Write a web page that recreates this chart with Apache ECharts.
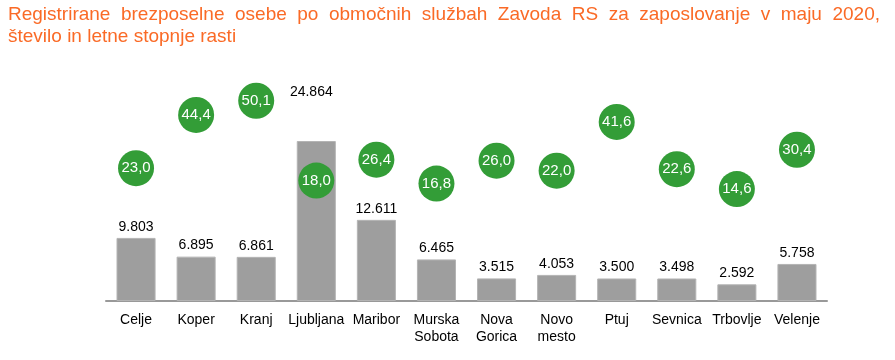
<!DOCTYPE html>
<html>
<head>
<meta charset="utf-8">
<script src="https://cdn.jsdelivr.net/npm/echarts@6/dist/echarts.min.js"></script>
<style>
html,body{margin:0;padding:0;background:#fff;}
#chart{width:895px;height:360px;}
</style>
</head>
<body>
<div id="chart"></div>
<script>
const categories = ["Celje", "Koper", "Kranj", "Ljubljana", "Maribor", "Murska\nSobota", "Nova\nGorica", "Novo\nmesto", "Ptuj", "Sevnica", "Trbovlje", "Velenje"];
const unemployed = [9803, 6895, 6861, 24864, 12611, 6465, 3515, 4053, 3500, 3498, 2592, 5758];
const growthRates = [23.0, 44.4, 50.1, 18.0, 26.4, 16.8, 26.0, 22.0, 41.6, 22.6, 14.6, 30.4];
const titleLine1 = "Registrirane brezposelne osebe po območnih službah Zavoda RS za zaposlovanje v maju 2020,";
const titleLine2 = "število in letne stopnje rasti";

const FONT = "Liberation Sans";
const TITLE_COLOR = "#fa6a26";
const TITLE_SIZE = 19;

function fmtInt(v){ return String(v).replace(/\B(?=(\d{3})+(?!\d))/g, "."); }
function fmtDec(v){ return v.toFixed(1).replace(".", ","); }

// justified first title line
const cv = document.createElement("canvas").getContext("2d");
cv.font = TITLE_SIZE + "px " + FONT;
const words = titleLine1.split(" ");
const widths = words.map(w => cv.measureText(w).width);
const left = 8, right = 880;
const gap = (right - left - widths.reduce((a,b)=>a+b,0)) / (words.length - 1);
const graphics = [];
let x = left;
words.forEach((w, i) => {
  graphics.push({type:"text", left: x, top: 5, style:{text:w, fill:TITLE_COLOR, font: TITLE_SIZE + "px " + FONT}});
  x += widths[i] + gap;
});
graphics.push({type:"text", left: left, top: 27, style:{text:titleLine2, fill:TITLE_COLOR, font: TITLE_SIZE + "px " + FONT}});

const chart = echarts.init(document.getElementById("chart"), null, {renderer:"canvas"});
chart.setOption({
  animation:false,
  backgroundColor:"#fff",
  textStyle:{fontFamily:FONT},
  graphic: graphics,
  grid:{left:106, right:68, top:50, bottom:59, containLabel:false},
  xAxis:{
    type:"category",
    data:categories,
    axisLine:{show:true, lineStyle:{color:"#999", width:2}},
    axisTick:{show:false},
    axisLabel:{color:"#000", fontSize:14, margin:11, lineHeight:17, interval:0, fontFamily:FONT}
  },
  yAxis:[
    {type:"value", min:0, max:39006, show:false, splitLine:{show:false}},
    {type:"value", min:-30.4, max:70.5, show:false, splitLine:{show:false}}
  ],
  series:[
    {
      type:"bar",
      data: unemployed.map((v, i) => i === 3 ? {value:v, label:{offset:[-5,-38]}} : v),
      barWidth:"65%",
      itemStyle:{color:"#9e9e9e", borderColor:"#b4b4b4", borderWidth:1},
      label:{show:true, position:"top", distance:4, color:"#000", fontSize:14, fontFamily:FONT, formatter:p => fmtInt(p.value)},
      z:2
    },
    {
      type:"scatter",
      yAxisIndex:1,
      data: growthRates,
      symbol:"circle",
      symbolSize:36,
      itemStyle:{color:"#339d37", opacity:1},
      label:{show:true, position:"inside", color:"#fff", fontSize:15, fontFamily:FONT, formatter:p => fmtDec(p.value)},
      z:5
    }
  ]
});
</script>
</body>
</html>
